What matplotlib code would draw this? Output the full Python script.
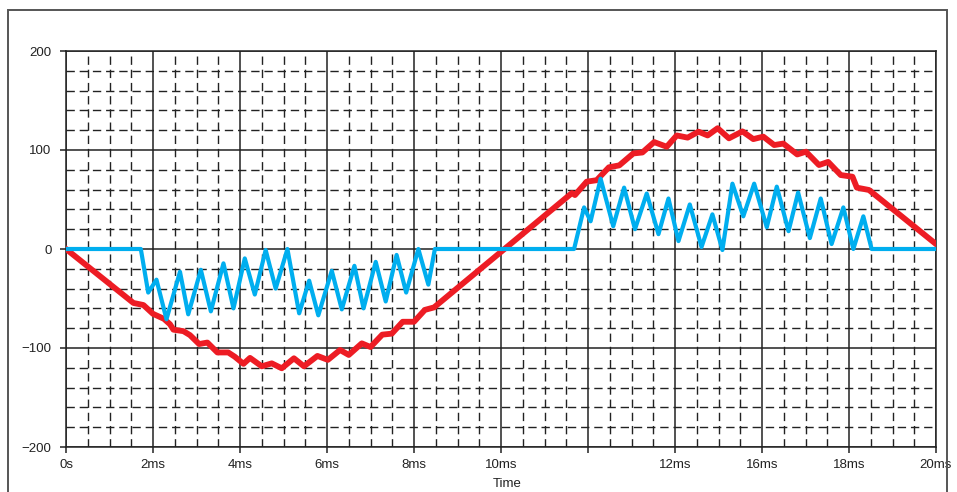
import matplotlib
matplotlib.use("Agg")
import matplotlib.pyplot as plt
from matplotlib.patches import Rectangle
from matplotlib.ticker import MultipleLocator

plt.rcParams['font.family'] = ['Liberation Sans', 'DejaVu Sans']

# red trace (time in ms, value)
red_t = [0, 1.55, 1.78, 2.0, 2.25, 2.39, 2.47, 2.70, 2.85, 3.06, 3.25, 3.48, 3.73,
         3.88, 4.08, 4.23, 4.50, 4.73, 4.96, 5.24, 5.47, 5.78, 6.02, 6.30, 6.50,
         6.80, 7.00, 7.27, 7.49, 7.74, 8.00, 8.25, 8.46, 11.63, 11.70, 11.97, 12.20,
         12.48, 12.72, 13.04, 13.25, 13.52, 13.81, 14.04, 14.29, 14.54, 14.75, 14.98,
         15.24, 15.55, 15.80, 16.03, 16.28, 16.49, 16.81, 17.01, 17.31, 17.52, 17.81,
         18.08, 18.18, 18.46, 20.0]
red_v = [0, -54.5, -56.6, -65.5, -70.5, -76, -81.5, -83, -87, -96, -94.5, -104.5, -104.5,
         -108.8, -116, -110, -118.5, -115.5, -120.5, -110.4, -118.5, -108, -112, -102, -107,
         -95.3, -99, -86.5, -85.5, -73.5, -73.5, -61.5, -59, 56.5, 54.5, 68, 69.5,
         82.5, 84.5, 96.5, 97.5, 108, 103.3, 114.7, 112.5, 118.5, 114.7, 122,
         111.8, 118.8, 111, 113.5, 105, 106.5, 95.5, 98.3, 84.8, 88, 74.7,
         73, 62, 59.6, 5]

# blue trace
blue_t = [0, 1.72, 1.89, 2.08, 2.31, 2.62, 2.81, 3.10, 3.33, 3.62, 3.85, 4.11, 4.34,
          4.59, 4.82, 5.09, 5.36, 5.59, 5.80, 6.11, 6.34, 6.63, 6.84, 7.12, 7.35, 7.60,
          7.82, 8.10, 8.33, 8.48, 11.68, 11.91, 12.06, 12.29, 12.58, 12.83, 13.08, 13.35,
          13.62, 13.85, 14.08, 14.34, 14.61, 14.86, 15.09, 15.32, 15.57, 15.82, 16.11,
          16.34, 16.61, 16.83, 17.10, 17.35, 17.60, 17.87, 18.10, 18.33, 18.52, 20.0]
blue_v = [0, 0, -44, -31, -71, -23, -66, -21, -63, -14.5, -60, -9.5, -46,
          -1, -40, 0, -65, -32, -67, -22, -61, -17, -60, -13, -53, -6,
          -44, 0, -36, 0, 0, 42, 28, 71, 23, 62, 20, 56,
          15, 51, 8, 45, 2, 35, -1, 66, 33, 66, 22,
          63, 18, 57, 11, 51, 5, 42, 0, 33, 0, 0]

x_ticks = [0, 2, 4, 6, 8, 10, 12, 14, 16, 18, 20]
x_labels = ['0s', '2ms', '4ms', '6ms', '8ms', '10ms', '', '12ms', '16ms', '18ms', '20ms']
y_ticks = [-200, -100, 0, 100, 200]

fig = plt.figure(figsize=(9.57, 4.92), dpi=100)
ax = fig.add_axes([66/957, 45/492, 870/957, 396/492])

gc = '#222222'
ax.grid(which='major', color=gc, lw=1.1, ls='-')
ax.grid(which='minor', color=gc, lw=1.0, ls=(0, (6, 3.5)))
ax.set_axisbelow(True)

ax.plot(red_t, red_v, color='#ED1C24', lw=4.2, solid_joinstyle='round', zorder=3)
ax.plot(blue_t, blue_v, color='#00AEEF', lw=3.0, solid_joinstyle='round', zorder=4)

ax.set_xlim(0, 20)
ax.set_ylim(-200, 200)
ax.set_xticks(x_ticks)
ax.set_xticklabels(x_labels)
ax.set_yticks(y_ticks)
ax.set_yticklabels(['\u2212200', '\u2212100', '0', '100', '200'])
ax.xaxis.set_minor_locator(MultipleLocator(0.5))
ax.yaxis.set_minor_locator(MultipleLocator(20))
ax.tick_params(which='major', length=4.5, width=1.1, color=gc, labelsize=9.5,
               labelcolor='#222222')
ax.tick_params(axis='y', which='major', pad=6)
ax.tick_params(axis='x', which='major', pad=4)
ax.tick_params(which='minor', length=0)
for s in ax.spines.values():
    s.set_color(gc)
    s.set_linewidth(1.1)

fig.text(507/957, 1 - 478/492, 'Time', ha='center', va='top', fontsize=9.5, color='#222222')

# outer frame
fig.patches.append(Rectangle((8/957, -0.05), 939/957, 1.05 - 9.5/492, transform=fig.transFigure,
                             fill=False, edgecolor='#555555', lw=1.4))

fig.savefig('out.png', dpi=100)
